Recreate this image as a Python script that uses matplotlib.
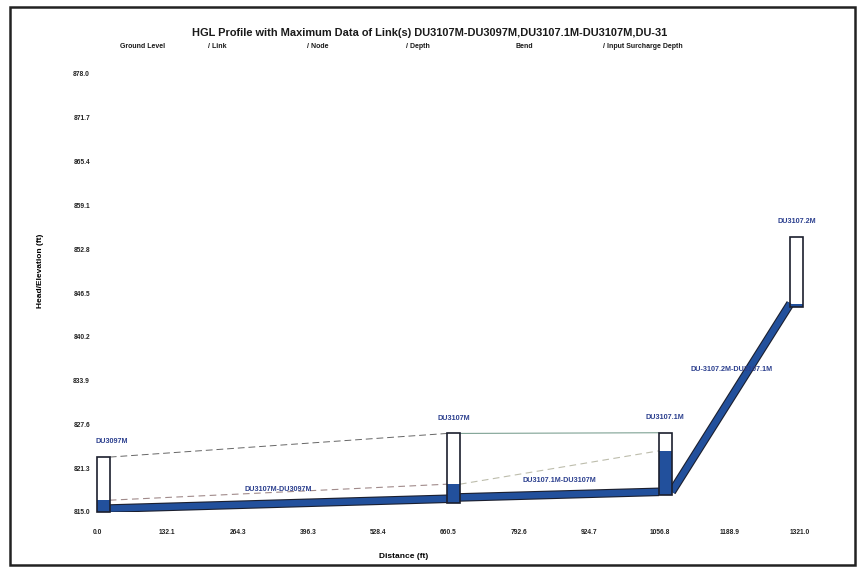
import matplotlib.pyplot as plt
import matplotlib.patches as patches
import matplotlib.patheffects as pe
import numpy as np

plt.rcParams['font.family'] = ['Liberation Sans', 'DejaVu Sans']

# nodes, downstream to upstream
node_names = ['DU3097M', 'DU3107M', 'DU3107.1M', 'DU3107.2M']
node_station = [12, 670, 1068, 1315]       # ft
node_invert = [815.0, 816.3, 817.4, 844.5]
node_rim = [822.9, 826.3, 826.4, 854.6]
node_hgl = [816.7, 819.0, 823.8, 844.9]

# links between consecutive nodes
link_names = ['DU3107M-DU3097M', 'DU3107.1M-DU3107M', 'DU-3107.2M-DU3107.1M']
link_dn_invert = [815.0, 816.6, 817.4]
link_up_invert = [816.4, 817.4, 844.5]
pipe_dia = 1.0

x_ticks = [0.0, 132.1, 264.3, 396.3, 528.4, 660.5, 792.6, 924.7, 1056.8, 1188.9, 1321.0]
y_ticks = [815.0, 821.3, 827.6, 833.9, 840.2, 846.5, 852.8, 859.1, 865.4, 871.7, 878.0]

legend_items = ['Ground Level', '/ Link', '/ Node', '/ Depth', 'Bend', '/ Input Surcharge Depth']
legend_x = [120, 208, 307, 406, 515, 603]

box_w = 24
blue = '#22509c'
dark = '#1b1f2e'
label_blue = '#2b3f8e'

W, H = 858, 571
fig = plt.figure(figsize=(W / 100, H / 100), dpi=100)
fig.patch.set_facecolor('white')

# outer frame
fig.add_artist(patches.Rectangle((10 / W, 6 / H), 845 / W, 558 / H, transform=fig.transFigure,
                                 fill=False, edgecolor='#222222', lw=1.8))

ax = fig.add_axes([97 / W, (H - 512) / H, 703 / W, 438 / H])
ax.set_xlim(0, 1321)
ax.set_ylim(815, 878)
for s in ax.spines.values():
    s.set_visible(False)
ax.set_xticks(x_ticks)
ax.set_xticklabels(['%.1f' % v for v in x_ticks])
ax.set_yticks(y_ticks)
ax.set_yticklabels(['%.1f' % v for v in y_ticks])
ax.tick_params(length=0, labelsize=4.8)
for lab in ax.get_xticklabels() + ax.get_yticklabels():
    lab.set_fontweight('bold')
    lab.set_color('#222222')
ax.xaxis.set_tick_params(pad=12)
ax.yaxis.set_tick_params(pad=5)

# pipes
for i in range(len(link_names)):
    x0 = node_station[i] + box_w / 2
    x1 = node_station[i + 1] - box_w / 2
    y0 = link_dn_invert[i] + pipe_dia / 2
    y1 = link_up_invert[i] + pipe_dia / 2
    ax.plot([x0, x1], [y0, y1], color=blue, lw=4.6, solid_capstyle='butt', zorder=3,
            path_effects=[pe.Stroke(linewidth=6.2, foreground=dark), pe.Normal()])
    xm, ym = (x0 + x1) / 2, (y0 + y1) / 2
    off = 20 if abs(y1 - y0) > 5 else 10
    ax.annotate(link_names[i], (xm, ym), xytext=(0, off), textcoords='offset points',
                ha='center', va='center', fontsize=5.2, fontweight='bold', color=label_blue)

# HGL and ground lines along the first two links
hgl_colors = ['#a08a8a', '#bdbdac']
for i in range(2):
    x0 = node_station[i] + box_w / 2
    x1 = node_station[i + 1] - box_w / 2
    ax.plot([x0, x1], [node_hgl[i], node_hgl[i + 1]], color=hgl_colors[i], lw=0.8,
            dashes=(6, 4), zorder=2)
x0 = node_station[0] + box_w / 2
x1 = node_station[1] - box_w / 2
ax.plot([x0, x1], [node_rim[0], node_rim[1]], color='#666666', lw=0.7, dashes=(7, 4), zorder=2)
ax.plot([node_station[1] + box_w / 2, node_station[2] - box_w / 2], [node_rim[1], node_rim[2]],
        color='#7fa294', lw=0.8, zorder=2)

# manholes
for i, name in enumerate(node_names):
    xl = node_station[i] - box_w / 2
    ax.add_patch(patches.Rectangle((xl, node_invert[i]), box_w, node_hgl[i] - node_invert[i],
                                   facecolor=blue, edgecolor='none', zorder=4, clip_on=False))
    ax.add_patch(patches.Rectangle((xl, node_invert[i]), box_w, node_rim[i] - node_invert[i],
                                   facecolor='none', edgecolor=dark, lw=1.2, zorder=5, clip_on=False))
    ax.annotate(name, (node_station[i], node_rim[i]), xytext=(6 if i == 0 else 0, 11),
                textcoords='offset points', ha='center', va='center', fontsize=5.2,
                fontweight='bold', color=label_blue)

ax.set_xlabel('Distance (ft)', fontsize=6, fontweight='bold')
ax.xaxis.set_label_coords((404 - 97) / 703, -(553 - 512) / 438)
ax.set_ylabel('Head/Elevation (ft)', fontsize=6, fontweight='bold')
ax.yaxis.set_label_coords(-(97 - 44) / 703, (512 - 271) / 438)

fig.text(430 / W, 1 - 33 / H,
         'HGL Profile with Maximum Data of Link(s) DU3107M-DU3097M,DU3107.1M-DU3107M,DU-31',
         ha='center', va='center', fontsize=7.9, fontweight='bold', color='#1a1a1a')
for txt, lx in zip(legend_items, legend_x):
    fig.text(lx / W, 1 - 47 / H, txt, ha='left', va='center', fontsize=5.0,
             fontweight='bold', color='#1a1a1a')

fig.savefig('out.png', dpi=100)
